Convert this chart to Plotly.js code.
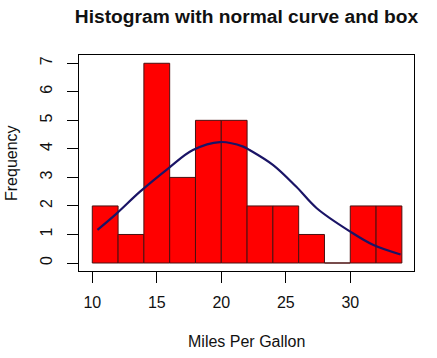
<!DOCTYPE html>
<html>
<head>
<meta charset="utf-8">
<script src="https://cdn.plot.ly/plotly-3.0.1.min.js"></script>
<style>html,body{margin:0;padding:0;background:#fff;}#chart{width:437px;height:358px;}</style>
</head>
<body>
<div id="chart"></div>
<script>
// Histogram bins (mid points, width 2) and counts
const binMids = [11, 13, 15, 17, 19, 21, 23, 25, 27, 29, 31, 33];
const binWidth = 2;
const counts = [2, 1, 7, 3, 5, 5, 2, 2, 1, 0, 2, 2];

// Normal curve points
const curveX = [10.4, 11.9, 13.7, 15.9, 17.8, 19.9, 21.7, 22.2, 24.0, 25.8, 27.4, 30.0, 31.8, 33.9];
const curveY = [1.16, 1.74, 2.50, 3.32, 3.96, 4.24, 4.08, 3.96, 3.44, 2.68, 1.92, 1.10, 0.63, 0.30];

const xTicks = [10, 15, 20, 25, 30];
const yTicks = [0, 1, 2, 3, 4, 5, 6, 7];

const font = "Liberation Sans, Arial, sans-serif";

const traces = [
  {
    type: 'bar',
    x: binMids,
    y: counts,
    width: binMids.map(() => binWidth),
    marker: {color: '#ff0000', line: {color: '#4a1010', width: 1}},
    hoverinfo: 'skip'
  },
  {
    type: 'scatter',
    mode: 'lines',
    x: curveX,
    y: curveY,
    line: {color: '#1a1466', width: 2.2, shape: 'spline', smoothing: 1},
    hoverinfo: 'skip'
  }
];

const layout = {
  width: 437, height: 358,
  margin: {l: 79, r: 23, t: 55, b: 87},
  paper_bgcolor: '#ffffff',
  plot_bgcolor: '#ffffff',
  showlegend: false,
  bargap: 0,
  font: {family: font, size: 16, color: '#111'},
  title: {
    text: '<b>Histogram with normal curve and box</b>',
    font: {family: font, size: 19.2, color: '#111'},
    x: 0.5, xref: 'paper', xanchor: 'center',
    y: 1 - 16/358, yref: 'container', yanchor: 'middle'
  },
  xaxis: {
    range: [8.97, 34.94],
    tickmode: 'array', tickvals: xTicks, ticktext: xTicks.map(String),
    ticks: 'outside', ticklen: 11, tickwidth: 1, tickcolor: '#000',
    ticklabelstandoff: 6,
    showline: true, linecolor: '#000', linewidth: 1, mirror: true,
    showgrid: false, zeroline: false,
    tickfont: {family: font, size: 16, color: '#111'}
  },
  yaxis: {
    range: [-0.28, 7.29],
    tickmode: 'array', tickvals: yTicks, ticktext: yTicks.map(String),
    ticks: 'outside', ticklen: 11, tickwidth: 1, tickcolor: '#000',
    tickangle: -90,
    ticklabelstandoff: 9,
    showline: true, linecolor: '#000', linewidth: 1, mirror: true,
    showgrid: false, zeroline: false,
    tickfont: {family: font, size: 16, color: '#111'}
  },
  annotations: [
    {text: 'Miles Per Gallon', xref: 'paper', yref: 'paper', x: 0.5, y: (271 - 341.7) / 216,
     xanchor: 'center', yanchor: 'middle', showarrow: false, font: {family: font, size: 16, color: '#111'}},
    {text: 'Frequency', xref: 'paper', yref: 'paper', x: (11 - 79) / 335, y: 0.5, textangle: -90,
     xanchor: 'center', yanchor: 'middle', showarrow: false, font: {family: font, size: 16, color: '#111'}}
  ]
};

Plotly.newPlot('chart', traces, layout, {displayModeBar: false, staticPlot: true});
</script>
</body>
</html>
